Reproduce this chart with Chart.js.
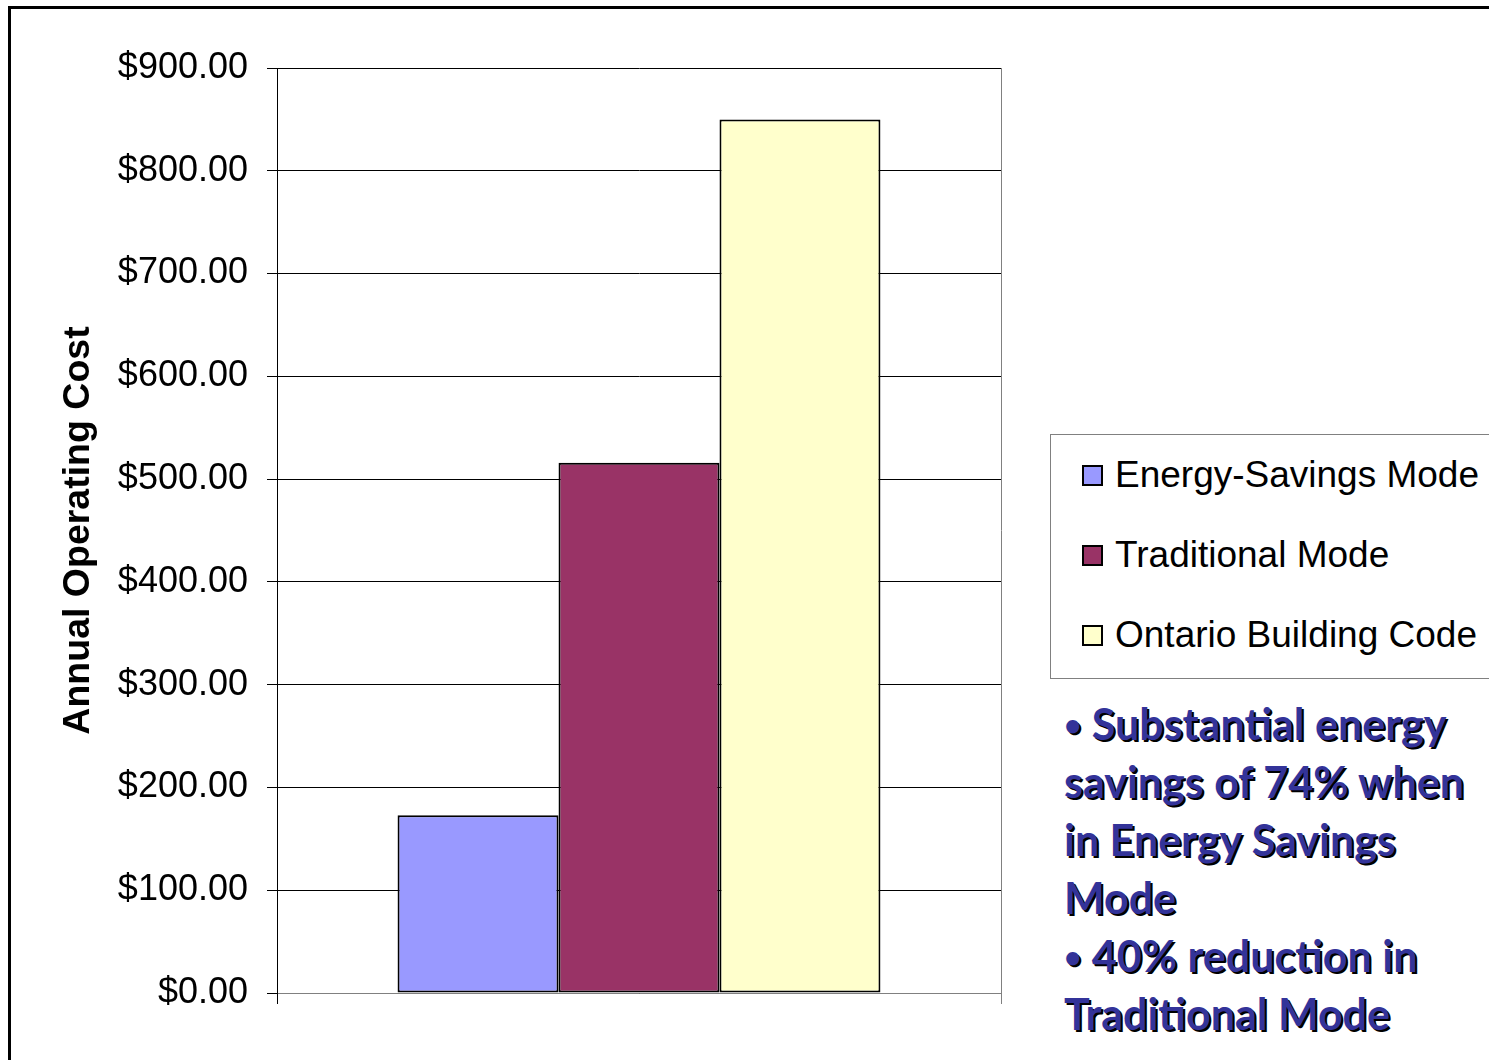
<!DOCTYPE html>
<html>
<head>
<meta charset="utf-8">
<script src="https://cdn.jsdelivr.net/npm/chart.js@4"></script>
<style>
    html, body {
        margin: 0;
        padding: 0;
        background: #fff;
        width: 1489px;
        height: 1060px;
        overflow: hidden;
        font-family: "Liberation Sans", Arial, sans-serif;
    }
    #frame {
        position: absolute;
        left: 8px;
        top: 6px;
        width: 1500px;
        height: 1100px;
        border-top: 3px solid #000;
        border-left: 3px solid #000;
    }
    #chart-box {
        position: absolute;
        left: 0;
        top: 0;
        width: 1040px;
        height: 1060px;
    }
    #legend {
        position: absolute;
        left: 1050px;
        top: 434px;
        width: 460px;
        height: 245px;
        border: 1px solid #808080;
        box-sizing: border-box;
        padding-top: 0;
    }
    .legend-item {
        display: flex;
        align-items: center;
        height: 80px;
        font-size: 37px;
        color: #000;
    }
    .legend-swatch {
        width: 17px;
        height: 17px;
        border: 2px solid #000;
        margin-left: 31px;
        margin-right: 12px;
    }
    #notes {
        position: absolute;
        left: 1064px;
        top: 695px;
        font-family: Lato, "Open Sans", sans-serif;
        font-weight: bold;
        font-size: 43px;
        line-height: 58px;
        color: #333399;
        text-shadow: 2px 2px 0 #000;
        white-space: nowrap;
    }
    #notes .bullet {
        font-size: 30px;
        vertical-align: 4px;
    }
</style>
</head>
<body>
<div id="frame"></div>
<div id="chart-box"><canvas id="cost-chart"></canvas></div>
<div id="legend"></div>
<div id="notes"></div>

<script>
// Du lieu bieu do
const categories = [''];
const seriesNames = ['Energy-Savings Mode', 'Traditional Mode', 'Ontario Building Code'];
const seriesValues = [173, 516, 850];
const yMin = 0;
const yMax = 900;
const yStep = 100;
const axisTitle = 'Annual Operating Cost';
const noteLines = [
    '\u2022 Substantial energy',
    'savings of 74% when',
    'in Energy Savings',
    'Mode',
    '\u2022 40% reduction in',
    'Traditional Mode'
];

// Mau sac
const seriesColors = ['#9999FF', '#993366', '#FFFFCC'];

const ctx = document.getElementById('cost-chart').getContext('2d');
const costChart = new Chart(ctx, {
    type: 'bar',
    data: {
        labels: categories,
        datasets: seriesNames.map((name, i) => ({
            label: name,
            data: [seriesValues[i]],
            backgroundColor: seriesColors[i],
            borderColor: '#000',
            borderWidth: 2,
            borderSkipped: false,
            categoryPercentage: 0.667,
            barPercentage: 1.0
        }))
    },
    options: {
        responsive: true,
        maintainAspectRatio: false,
        animation: false,
        layout: {
            padding: { left: 50, top: 68, right: 39, bottom: 0 }
        },
        plugins: {
            legend: { display: false },
            tooltip: { enabled: false }
        },
        scales: {
            x: {
                ticks: { display: false },
                grid: {
                    offset: true,
                    color: (c) => c.index === 0 ? '#000' : '#808080',
                    lineWidth: 1,
                    tickLength: 11
                },
                border: { color: '#808080', width: 1 },
                afterFit: (scale) => { scale.height = 67; }
            },
            y: {
                min: yMin,
                max: yMax,
                ticks: {
                    stepSize: yStep,
                    color: '#000',
                    padding: 19,
                    font: { family: '"Liberation Sans", Arial, sans-serif', size: 36 },
                    callback: (v) => '$' + Number(v).toFixed(2)
                },
                grid: {
                    color: '#000',
                    lineWidth: 1,
                    tickLength: 10
                },
                border: { color: '#000', width: 1 },
                title: {
                    display: true,
                    text: axisTitle,
                    color: '#000',
                    padding: { top: 6, bottom: 0 },
                    font: { family: '"Liberation Sans", Arial, sans-serif', size: 37.5, weight: 'bold' }
                },
                afterFit: (scale) => { scale.width = 227; }
            }
        }
    }
});

// Chu giai HTML lay tu cac mang du lieu
const legendBox = document.getElementById('legend');
seriesNames.forEach((name, i) => {
    const item = document.createElement('div');
    item.className = 'legend-item';
    item.innerHTML = `<span class="legend-swatch" style="background:${seriesColors[i]}"></span><span>${name}</span>`;
    legendBox.appendChild(item);
});

// Ghi chu ben phai (dau cham nho hon chu)
document.getElementById('notes').innerHTML = noteLines
    .map(l => `<div>${l.replace('\u2022', '<span class="bullet">\u2022</span>')}</div>`)
    .join('');
</script>
</body>
</html>
